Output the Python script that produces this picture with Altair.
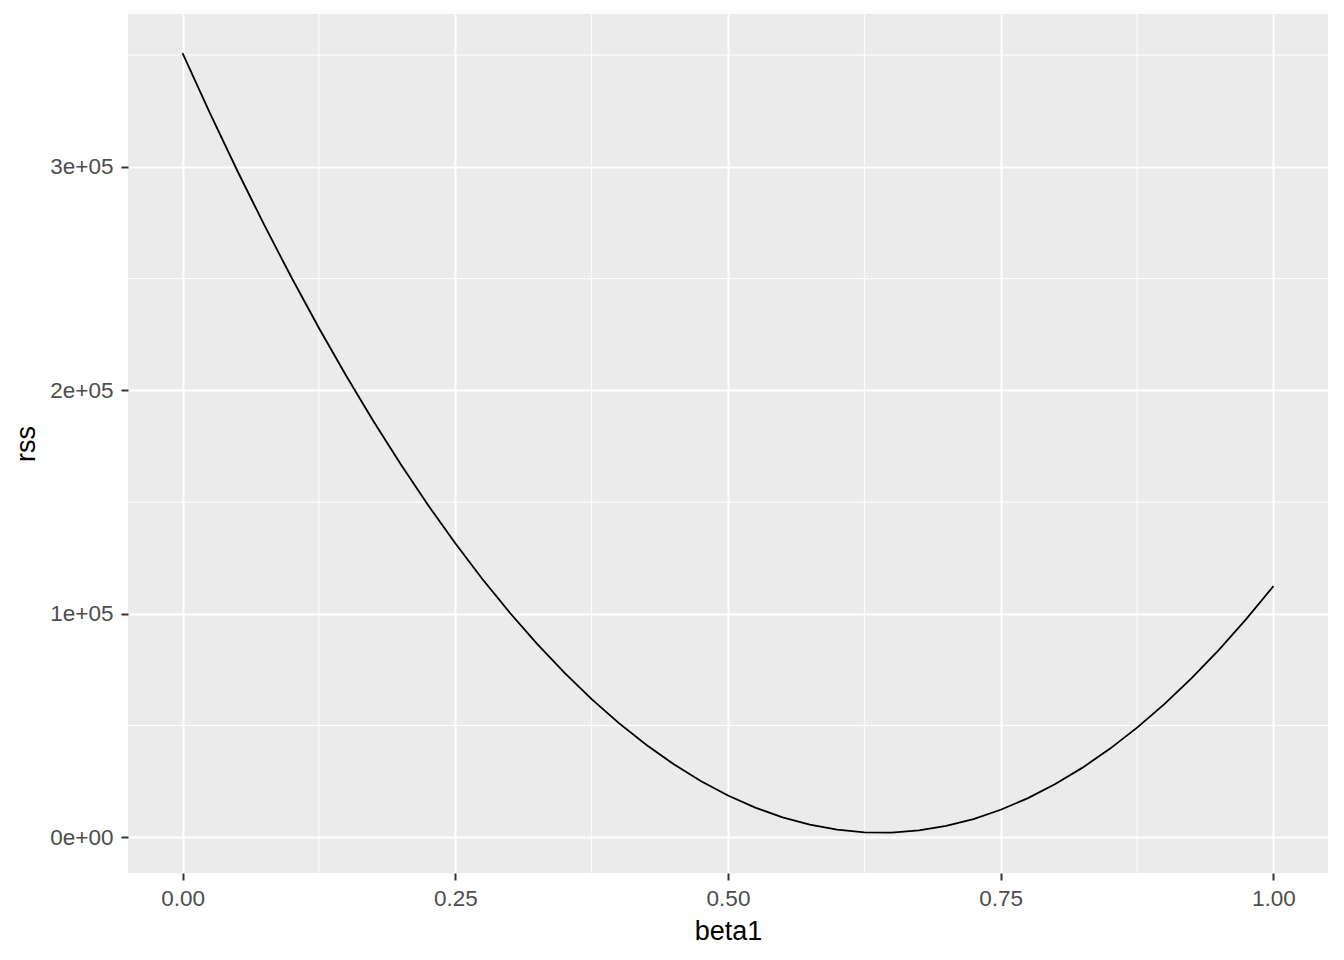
import altair as alt
import pandas as pd

beta1 = [0.000, 0.025, 0.050, 0.075, 0.100, 0.125, 0.150, 0.175, 0.200, 0.225,
         0.250, 0.275, 0.300, 0.325, 0.350, 0.375, 0.400, 0.425, 0.450, 0.475,
         0.500, 0.525, 0.550, 0.575, 0.600, 0.625, 0.650, 0.675, 0.700, 0.725,
         0.750, 0.775, 0.800, 0.825, 0.850, 0.875, 0.900, 0.925, 0.950, 0.975,
         1.000]
rss = [350856, 324134, 298477, 273884, 250356, 227892, 206493, 186159, 166889, 148684,
       131544, 115468, 100457, 86510, 73628, 61811, 51058, 41370, 32746, 25187,
       18693, 13264, 8899, 5598, 3363, 2192, 2085, 3043, 5066, 8154,
       12306, 17522, 23804, 31149, 39560, 49035, 59575, 71179, 83848, 97582,
       112380]

x_ticks = [0.0, 0.25, 0.5, 0.75, 1.0]
y_ticks = [0, 100000, 200000, 300000]
x_minor = [0.125, 0.375, 0.625, 0.875]
y_minor = [50000, 150000, 250000, 350000]

df = pd.DataFrame({"beta1": beta1, "rss": rss})
xscale = alt.Scale(domain=[-0.05, 1.05], nice=False, zero=False)
yscale = alt.Scale(domain=[-16000, 368400], nice=False, zero=False)

FONT = "Liberation Sans"

xaxis = alt.Axis(values=x_ticks, format=".2f", title="beta1", grid=True,
                 gridColor="white", gridWidth=2, domain=False,
                 tickColor="#333333", tickSize=7, tickWidth=2,
                 labelFont=FONT, labelFontSize=22.5, labelColor="#4D4D4D",
                 labelPadding=7, titleFont=FONT, titleFontSize=27,
                 titleColor="black", titleFontWeight="normal", titlePadding=9)
yaxis = alt.Axis(values=y_ticks,
                 labelExpr="datum.value == 0 ? '0e+00' : format(datum.value/100000, 'd') + 'e+05'",
                 title="rss", grid=True, gridColor="white", gridWidth=2,
                 domain=False, tickColor="#333333", tickSize=7, tickWidth=2,
                 labelFont=FONT, labelFontSize=22.5, labelColor="#4D4D4D",
                 labelPadding=8, titleFont=FONT, titleFontSize=27,
                 titleColor="black", titleFontWeight="normal", titlePadding=9)

vminor = alt.Chart(pd.DataFrame({"beta1": x_minor})).mark_rule(
    color="white", strokeWidth=1).encode(
    x=alt.X("beta1:Q", scale=xscale, axis=xaxis))
hminor = alt.Chart(pd.DataFrame({"rss": y_minor})).mark_rule(
    color="white", strokeWidth=1).encode(
    y=alt.Y("rss:Q", scale=yscale, axis=yaxis))

line = alt.Chart(df).mark_line(color="black", strokeWidth=1.8).encode(
    x=alt.X("beta1:Q", scale=xscale, axis=xaxis),
    y=alt.Y("rss:Q", scale=yscale, axis=yaxis),
)

chart = alt.layer(vminor, hminor, line).properties(
    width=1200, height=859,
    autosize=alt.AutoSizeParams(type="none"),
    padding={"left": 120, "top": 6, "right": 8, "bottom": 79},
).configure_view(fill="#EBEBEB", stroke=None)

chart.save("out.html", embed_options={"renderer": "svg", "actions": False})
